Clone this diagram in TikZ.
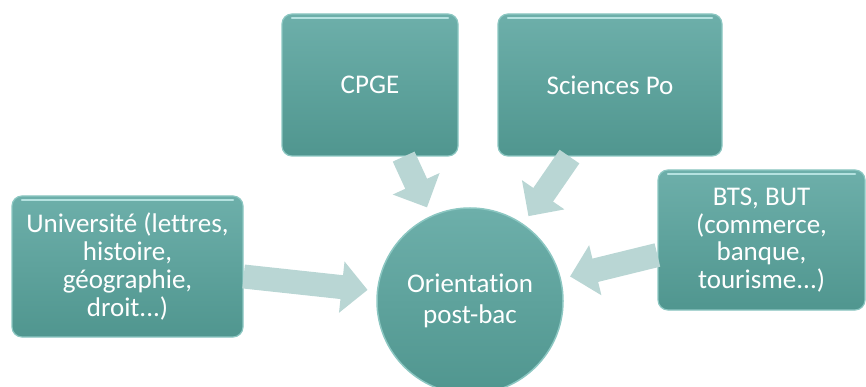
\documentclass[tikz,border=0pt]{standalone}
\usepackage{fontspec}
\setmainfont[Ligatures=NoCommon]{Carlito}
\usetikzlibrary{calc,arrows.meta}

\definecolor{boxtop}{HTML}{6DAFAA}
\definecolor{boxbot}{HTML}{50968F}
\definecolor{rim}{HTML}{8CC7C2}
\definecolor{gleam}{HTML}{C8F0EE}
\definecolor{arrowc}{HTML}{B9D6D4}

\tikzset{
  box/.style={rounded corners=10pt, top color=boxtop, bottom color=boxbot,
    draw=rim, line width=1.2pt, text=white, align=center, inner sep=0pt,
    font=\fontsize{27}{27.7}\selectfont,
    path picture={\draw[gleam, line width=2.5pt, opacity=.8, line cap=round]
      ([xshift=10pt,yshift=-4pt]path picture bounding box.north west) --
      ([xshift=-10pt,yshift=-4pt]path picture bounding box.north east);}},
  hub/.style={circle, top color=boxtop, bottom color=boxbot, draw=rim,
    line width=1.5pt, text=white, align=center, inner sep=0pt,
    minimum size=186pt, font=\fontsize{27}{31}\selectfont},
  flow/.style={line width=24pt, draw=arrowc, -{Triangle[length=26pt,width=50pt]}}
}

\begin{document}
\begin{tikzpicture}[x=1pt,y=1pt]
\useasboundingbox (0,0) rectangle (866,-387);

\node[box, minimum width=231pt, minimum height=141pt] (u) at (127.5,-266.5)
  {Université (lettres,\\histoire,\\géographie,\\droit...)};
\node[box, minimum width=176pt, minimum height=142pt] (cpge) at (370,-85) {CPGE};
\node[box, minimum width=224pt, minimum height=142pt] (sp) at (610,-85) {Sciences Po};
\node[box, minimum width=207pt, minimum height=140pt] (bts) at (761.5,-240)
  {BTS, BUT\\(commerce,\\banque,\\tourisme...)};
\node[hub] (c) at (470,-301) {Orientation\\post-bac};

\coordinate (s1) at ($(u.east)+(0,-10pt)$);
\coordinate (s2) at ($(cpge.south west)!0.69!(cpge.south east)$);
\coordinate (s3) at ($(sp.south west)!0.32!(sp.south east)$);
\coordinate (s4) at ($(bts.west)+(0,-15pt)$);

\draw[flow] (s1) -- ($(c.center)!103pt!(s1)$);
\draw[flow] (s2) -- ($(c.center)!103pt!(s2)$);
\draw[flow] (s3) -- ($(c.center)!103pt!(s3)$);
\draw[flow] (s4) -- ($(c.center)!103pt!(s4)$);
\end{tikzpicture}
\end{document}
